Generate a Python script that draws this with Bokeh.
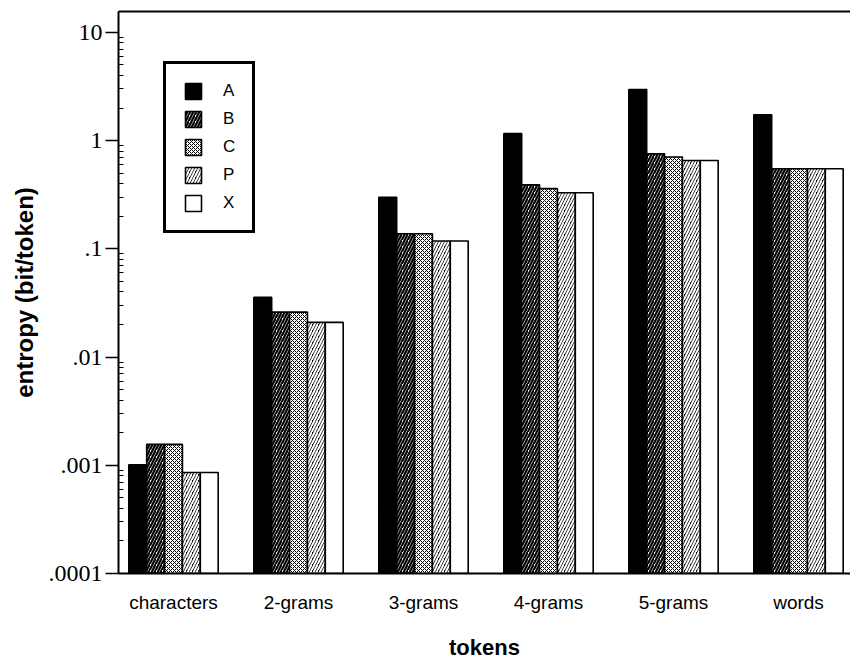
import numpy as np
from bokeh.plotting import figure
from bokeh.models import (Range1d, FixedTicker, ColumnDataSource, Legend, LegendItem,
                          LinearAxis)
from bokeh.embed import file_html
from bokeh.resources import INLINE

# ---------------- data ----------------
categories = ["characters", "2-grams", "3-grams", "4-grams", "5-grams", "words"]
series = ["A", "B", "C", "P", "X"]
vals_A = [0.00101, 0.0356, 0.30, 1.16, 2.97, 1.73]
vals_B = [0.00156, 0.026, 0.138, 0.39, 0.757, 0.55]
vals_C = [0.00156, 0.026, 0.138, 0.36, 0.705, 0.55]
vals_P = [0.000857, 0.0209, 0.118, 0.33, 0.656, 0.55]
vals_X = [0.000857, 0.0209, 0.118, 0.33, 0.656, 0.55]
y_tick_values = [1e-4, 1e-3, 1e-2, 1e-1, 1, 10]
y_tick_labels = [".0001", ".001", ".01", ".1", "1", "10"]

series_values = [vals_A, vals_B, vals_C, vals_P, vals_X]

# ---------------- styles ----------------
styles = {
    "A": dict(fill_color="black"),
    "B": dict(fill_color="white", hatch_pattern="/", hatch_color="black",
              hatch_scale=6, hatch_weight=2.2),
    "C": dict(fill_color="white", hatch_pattern="x", hatch_color="black",
              hatch_scale=4, hatch_weight=1),
    "P": dict(fill_color="black", hatch_pattern="/", hatch_color="white",
              hatch_scale=6, hatch_weight=2),
    "X": dict(fill_color="white"),
}

y_bottom = 1e-4
y_top = 15.6
bar_w = 0.143

p = figure(width=850, height=662, output_backend="svg", toolbar_location=None,
           y_axis_type="log",
           x_range=Range1d(-0.44, 5.416), y_range=Range1d(y_bottom, y_top),
           min_border_left=118, min_border_right=0, min_border_top=11,
           min_border_bottom=89)
p.outline_line_color = None
p.xgrid.visible = False
p.ygrid.visible = False
p.background_fill_color = "white"
p.border_fill_color = "white"

idx = np.arange(len(categories))
items = []
for k, (name, vals) in enumerate(zip(series, series_values)):
    src = ColumnDataSource(dict(x=idx + (k - 2) * bar_w, top=vals,
                                bottom=[y_bottom] * len(vals)))
    r = p.vbar(x="x", top="top", bottom="bottom", width=bar_w, source=src,
               line_color="black", line_width=1.6, **styles[name])
    items.append(LegendItem(label=name, renderers=[r]))

# x axis
xa = p.xaxis[0]
xa.ticker = FixedTicker(ticks=list(idx))
xa.major_label_overrides = {int(i): c for i, c in zip(idx, categories)}
xa.major_tick_line_color = None
xa.minor_tick_line_color = None
xa.axis_line_width = 2
xa.axis_line_color = "black"
xa.major_label_text_font = "Liberation Sans"
xa.major_label_text_font_size = "19px"
xa.major_label_text_color = "black"
xa.major_label_standoff = 12
xa.axis_label = "tokens"
xa.axis_label_text_font = "Liberation Sans"
xa.axis_label_text_font_style = "bold"
xa.axis_label_text_font_size = "22px"
xa.axis_label_text_color = "black"
xa.axis_label_standoff = 19

# y axis
minor = [m * d for d in y_tick_values[:-1] for m in range(2, 10)]
ya = p.yaxis[0]
ya.ticker = FixedTicker(ticks=y_tick_values, minor_ticks=minor)
ya.major_label_overrides = {v: l for v, l in zip(y_tick_values, y_tick_labels)}
ya.major_tick_out = 13
ya.major_tick_in = 0
ya.major_tick_line_width = 1.5
ya.major_tick_line_color = "black"
ya.minor_tick_in = 5
ya.minor_tick_out = 0
ya.minor_tick_line_color = "black"
ya.axis_line_width = 2
ya.axis_line_color = "black"
ya.major_label_text_font = "Liberation Serif"
ya.major_label_text_font_size = "24px"
ya.major_label_text_color = "black"
ya.major_label_standoff = 3
ya.axis_label = "entropy (bit/token)"
ya.axis_label_text_font = "Liberation Sans"
ya.axis_label_text_font_style = "bold"
ya.axis_label_text_font_size = "24px"
ya.axis_label_text_color = "black"
ya.axis_label_standoff = 8

# top frame line
top_axis = LinearAxis(major_tick_line_color=None, minor_tick_line_color=None,
                      major_label_text_font_size="0px", axis_line_width=2,
                      axis_line_color="black", major_label_standoff=0)
p.add_layout(top_axis, "above")

legend = Legend(items=items, location=(45, 340), margin=0, padding=17,
                spacing=8, glyph_width=20, glyph_height=20, label_standoff=20,
                label_width=12, label_height=20,
                label_text_font="Liberation Sans", label_text_font_size="17px",
                label_text_color="black",
                border_line_color="black", border_line_width=3,
                border_line_alpha=1,
                background_fill_color="white", background_fill_alpha=1)
p.add_layout(legend)

open("out.html", "w").write(file_html(p, INLINE))
